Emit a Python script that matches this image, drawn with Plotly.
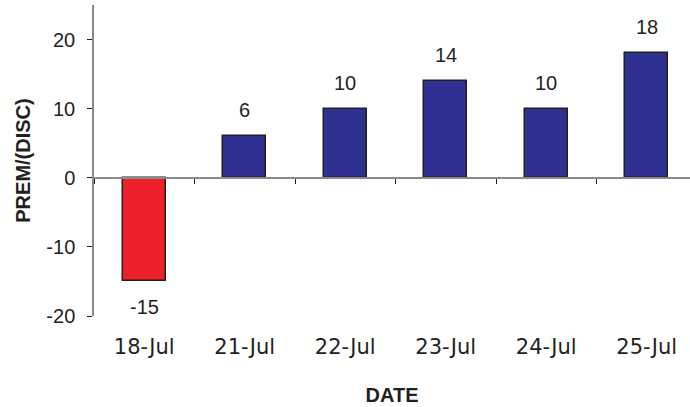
import plotly.graph_objects as go

# Daily premium / discount values
dates = ["18-Jul", "21-Jul", "22-Jul", "23-Jul", "24-Jul", "25-Jul"]
values = [-15, 6, 10, 14, 10, 18]
y_ticks = [-20, -10, 0, 10, 20]

RED = "#ED2129"
NAVY = "#2E3192"
INK = "#231F20"
AXIS_GRAY = "#8A8A8A"

colors = [RED if v < 0 else NAVY for v in values]
idx = list(range(len(dates)))

y_range = [-20, 25]
x_range = [-0.5, 5.43]
zero_frac = (0 - y_range[0]) / (y_range[1] - y_range[0])

fig = go.Figure()
fig.add_trace(go.Bar(
    x=idx, y=values,
    marker=dict(color=colors, line=dict(color=INK, width=1.5)),
    width=0.43,
    showlegend=False,
    hoverinfo="skip",
))
# invisible trace so the zero-line category axis gets its own subplot
fig.add_trace(go.Scatter(x=[None], y=[None], xaxis="x2", yaxis="y",
                         showlegend=False, hoverinfo="skip"))

for i, v in zip(idx, values):
    fig.add_annotation(
        x=i, y=v, xref="x", yref="y", text=str(v), showarrow=False,
        yanchor="bottom" if v >= 0 else "top",
        yshift=13 if v >= 0 else -13,
        font=dict(family="Liberation Sans, Arial", size=20, color=INK),
    )

fig.update_layout(
    width=690, height=407,
    margin=dict(l=94, r=0, t=5, b=91),
    plot_bgcolor="white", paper_bgcolor="white",
    bargap=0,
    xaxis=dict(
        range=x_range, tickvals=idx, ticktext=dates,
        showline=False, showgrid=False, zeroline=False, ticks="",
        ticklabelstandoff=16,
        tickfont=dict(family="DejaVu Sans", size=21, color=INK),
        title=dict(text="<b>DATE</b>", standoff=29,
                   font=dict(family="Liberation Sans, Arial", size=20, color=INK)),
    ),
    xaxis2=dict(
        range=x_range, overlaying="x", anchor="free", position=zero_frac,
        tickvals=[i - 0.5 for i in range(len(dates) + 1)],
        showticklabels=False, ticks="outside", ticklen=5, tickcolor=INK,
        showline=True, linecolor=AXIS_GRAY, linewidth=1.5,
        showgrid=False, zeroline=False,
    ),
    yaxis=dict(
        range=y_range, tickvals=y_ticks, ticktext=[str(t) for t in y_ticks],
        showline=True, linecolor=AXIS_GRAY, linewidth=1.5,
        ticks="outside", ticklen=5, tickcolor=INK,
        showgrid=False, zeroline=False,
        ticklabelstandoff=8,
        tickfont=dict(family="Liberation Sans, Arial", size=20, color=INK),
        title=dict(text="<b>PREM/(DISC)</b>", standoff=10,
                   font=dict(family="Liberation Sans, Arial", size=20, color=INK)),
    ),
)

fig.write_html("out.html")
